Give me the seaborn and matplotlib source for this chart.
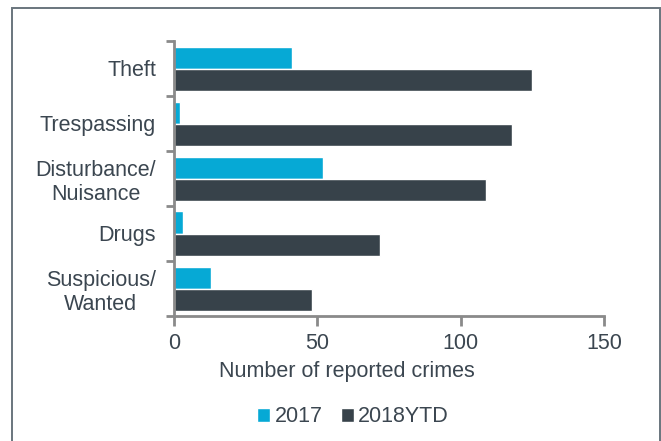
import matplotlib
matplotlib.use("Agg")
import matplotlib.pyplot as plt
from matplotlib.patches import Rectangle
from matplotlib.ticker import FixedLocator, NullFormatter
import seaborn as sns
import pandas as pd

categories = ["Theft", "Trespassing", "Disturbance/\nNuisance", "Drugs", "Suspicious/\nWanted"]
crimes_2017 = [41, 2, 52, 3, 13]
crimes_2018ytd = [125, 118, 109, 72, 48]
series_names = ["2017", "2018YTD"]
x_ticks = [0, 50, 100, 150]

TEXT = "#3b4650"
AXIS = "#8a8a8a"
colors = ["#06a9d5", "#37424a"]

df = pd.DataFrame({
    "category": categories * 2,
    "count": crimes_2017 + crimes_2018ytd,
    "series": [series_names[0]] * len(categories) + [series_names[1]] * len(categories),
})

sns.set_theme(style="white")
plt.rcParams["font.family"] = ["Liberation Sans", "DejaVu Sans"]

fig = plt.figure(figsize=(6.61, 4.41), dpi=100)
ax = fig.add_axes([174 / 661, 1 - 316 / 441, 430 / 661, 275 / 441])

sns.barplot(data=df, y="category", x="count", hue="series", orient="h",
            palette=colors, width=0.8, saturation=1, ax=ax, legend=True)

ax.set_xlim(0, 150)
ax.set_ylim(len(categories) - 0.5, -0.5)
ax.xaxis.set_major_locator(FixedLocator(x_ticks))
ax.set_xticklabels([str(v) for v in x_ticks])

# category ticks sit on the boundaries between groups
ax.yaxis.set_minor_locator(FixedLocator([i - 0.5 for i in range(len(categories) + 1)]))
ax.yaxis.set_minor_formatter(NullFormatter())
ax.tick_params(axis="y", which="major", length=0, pad=13, labelsize=15.5, labelcolor=TEXT)
ax.tick_params(axis="y", which="minor", left=True, length=6, width=2, color=AXIS)
ax.tick_params(axis="x", which="major", bottom=True, length=7, width=2, color=AXIS,
               labelsize=15.5, labelcolor=TEXT, pad=5)
for lbl in ax.get_yticklabels():
    lbl.set_multialignment("center")

ax.set_ylabel("")
ax.set_xlabel("Number of reported crimes", fontsize=15.5, color=TEXT)
ax.xaxis.set_label_coords(0.401, -0.2)
ax.xaxis.label.set_verticalalignment("center")

for side in ["top", "right"]:
    ax.spines[side].set_visible(False)
for side in ["left", "bottom"]:
    ax.spines[side].set_color(AXIS)
    ax.spines[side].set_linewidth(2)

handles, labels = ax.get_legend_handles_labels()
ax.legend_.remove()
fig.legend(handles, labels, loc="center", bbox_to_anchor=(353 / 661, 1 - 417 / 441),
           ncol=2, frameon=False, fontsize=15.5, labelcolor=TEXT,
           handlelength=0.6, handleheight=0.6, handletextpad=0.2, columnspacing=0.85)

fig.patches.append(Rectangle((12 / 661, -0.02), 648 / 661, 1.02 - 8 / 441,
                             transform=fig.transFigure, fill=False,
                             edgecolor="#69757d", linewidth=1.4))

fig.savefig("out.png", dpi=100)
